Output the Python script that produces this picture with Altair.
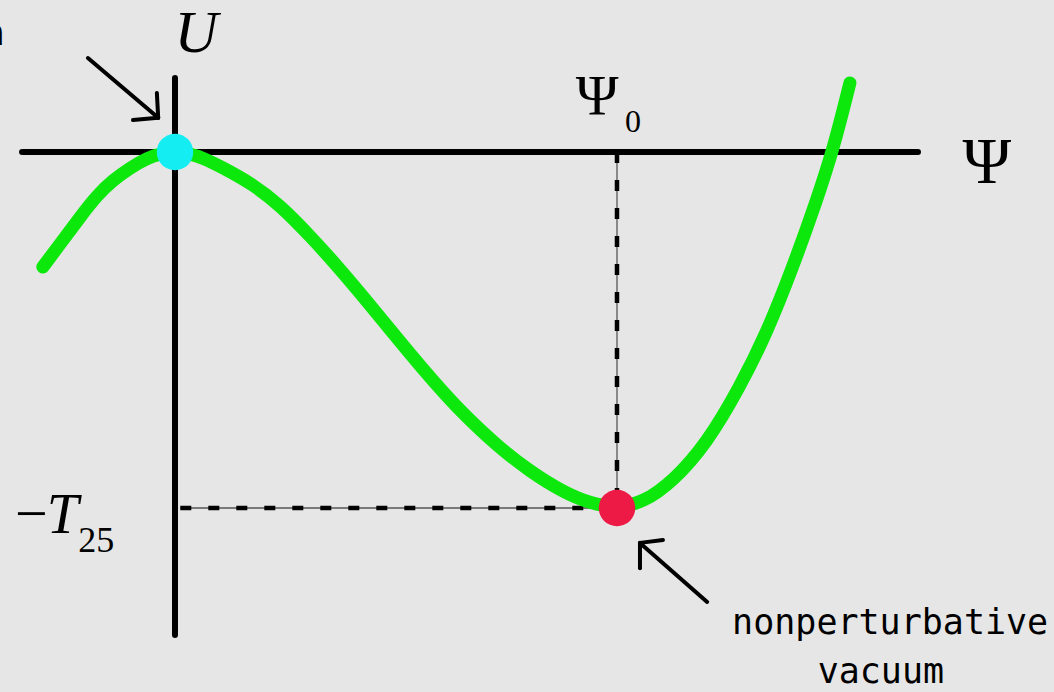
import altair as alt
import pandas as pd

# Potential U(Psi): Psi in units of Psi_0, U in units of T_25
psi = [-0.299, -0.253, -0.215, -0.176, -0.140, -0.102, -0.063, -0.030, 0.0, 0.030,
       0.063, 0.102, 0.176, 0.238, 0.305, 0.367, 0.425, 0.502, 0.561, 0.615,
       0.652, 0.729, 0.803, 0.878, 0.939, 1.0, 1.059, 1.127, 1.204, 1.278,
       1.339, 1.398, 1.452, 1.489, 1.527]
u = [-0.323, -0.247, -0.183, -0.121, -0.079, -0.045, -0.017, -0.004, 0.0, -0.004,
     -0.016, -0.040, -0.090, -0.150, -0.235, -0.320, -0.405, -0.522, -0.610, -0.686,
     -0.735, -0.826, -0.897, -0.955, -0.987, -1.0, -0.985, -0.925, -0.817, -0.660,
     -0.508, -0.323, -0.135, 0.006, 0.194]

# Stationary points: perturbative (origin) and nonperturbative vacuum
vac_psi = [0.0, 1.0]
vac_u = [0.0, -1.0]
vac_kind = ["perturbative", "nonperturbative"]

# Coordinate axes
axis_x1 = [-0.346, 0.0]
axis_x2 = [1.681, 0.0]
axis_y1 = [0.0, 0.208]
axis_y2 = [0.0, -1.357]

# Guide lines to Psi_0 and -T_25
guide_x1 = [1.0, 0.012]
guide_x2 = [1.0, 1.0]
guide_y1 = [0.0, -1.0]
guide_y2 = [-1.0, -1.0]

# Arrows (shaft + two barbs each)
arr_x1 = [-0.197, -0.038, -0.038, 1.204, 1.052, 1.052]
arr_y1 = [0.264, 0.096, 0.096, -1.264, -1.098, -1.098]
arr_x2 = [-0.038, -0.095, -0.041, 1.052, 1.104, 1.052]
arr_y2 = [0.096, 0.090, 0.166, -1.098, -1.090, -1.169]

X_DOMAIN = [-0.3959, 1.9887]
Y_DOMAIN = [-1.5169, 0.4270]
W, H = 1054, 692

xs = alt.Scale(domain=X_DOMAIN, nice=False, zero=False)
ys = alt.Scale(domain=Y_DOMAIN, nice=False, zero=False)


def X(field):
    return alt.X(field, type="quantitative", scale=xs, axis=None)


def Y(field):
    return alt.Y(field, type="quantitative", scale=ys, axis=None)


curve_df = pd.DataFrame({"psi": psi, "u": u})
vac_df = pd.DataFrame({"psi": vac_psi, "u": vac_u, "kind": vac_kind})
axis_df = pd.DataFrame({"x": axis_x1, "x2": axis_x2, "y": axis_y1, "y2": axis_y2})
guide_df = pd.DataFrame({"x": guide_x1, "x2": guide_x2, "y": guide_y1, "y2": guide_y2})
arrow_df = pd.DataFrame({"x": arr_x1, "x2": arr_x2, "y": arr_y1, "y2": arr_y2})

guide_thin = alt.Chart(guide_df).mark_rule(color="#555555", strokeWidth=1.3).encode(
    x=X("x"), x2="x2", y=Y("y"), y2="y2")
guide_dash = alt.Chart(guide_df).mark_rule(
    color="black", strokeWidth=4.5, strokeDash=[11, 17]).encode(
    x=X("x"), x2="x2", y=Y("y"), y2="y2")

axes = alt.Chart(axis_df).mark_rule(color="black", strokeWidth=6, strokeCap="round").encode(
    x=X("x"), x2="x2", y=Y("y"), y2="y2")

curve = alt.Chart(curve_df).mark_line(
    color="#0ce80c", strokeWidth=13, strokeCap="round", interpolate="basis").encode(
    x=X("psi"), y=Y("u"))

dots = alt.Chart(vac_df).mark_point(filled=True, opacity=1, size=1330, shape="circle").encode(
    x=X("psi"), y=Y("u"),
    color=alt.Color("kind:N", scale=alt.Scale(domain=vac_kind, range=["#14eef2", "#ec1a45"]),
                    legend=None))

arrows = alt.Chart(arrow_df).mark_rule(color="black", strokeWidth=4, strokeCap="round").encode(
    x=X("x"), x2="x2", y=Y("y"), y2="y2")

# Text labels
labels_df = pd.DataFrame([
    {"x": 0.048, "y": 0.281, "t": "U", "size": 60, "style": "italic", "font": "Liberation Serif", "align": "center"},
    {"x": 1.837, "y": -0.087, "t": "Ψ", "size": 66, "style": "normal", "font": "Liberation Serif", "align": "center"},
    {"x": 0.955, "y": 0.104, "t": "Ψ", "size": 58, "style": "normal", "font": "Liberation Serif", "align": "center"},
    {"x": 1.018, "y": 0.056, "t": "0", "size": 32, "style": "normal", "font": "Liberation Serif", "align": "left"},
    {"x": -0.362, "y": -1.070, "t": "−", "size": 58, "style": "normal", "font": "Liberation Serif", "align": "left"},
    {"x": -0.290, "y": -1.070, "t": "T", "size": 57, "style": "italic", "font": "Liberation Serif", "align": "left"},
    {"x": -0.219, "y": -1.124, "t": "25", "size": 36, "style": "normal", "font": "Liberation Serif", "align": "left"},
    {"x": 1.618, "y": -1.354, "t": "nonperturbative", "size": 35, "style": "normal", "font": "DejaVu Sans Mono", "align": "center"},
    {"x": 1.597, "y": -1.492, "t": "vacuum", "size": 35, "style": "normal", "font": "DejaVu Sans Mono", "align": "center"},
    {"x": -0.385, "y": 0.301, "t": "n", "size": 35, "style": "normal", "font": "DejaVu Sans Mono", "align": "right"},
])

text_layers = []
for (size, style, font, align), grp in labels_df.groupby(["size", "style", "font", "align"]):
    text_layers.append(
        alt.Chart(grp).mark_text(
            fontSize=int(size), fontStyle=style, font=font, align=align,
            baseline="alphabetic", color="black").encode(
            x=X("x"), y=Y("y"), text="t:N"))

chart = alt.layer(guide_thin, guide_dash, axes, curve, dots, arrows, *text_layers).properties(
    width=W, height=H, padding=0, autosize="none", background="#e6e6e6"
).configure_view(strokeWidth=0)

chart.save("out.html", embed_options={"renderer": "svg", "actions": False})
